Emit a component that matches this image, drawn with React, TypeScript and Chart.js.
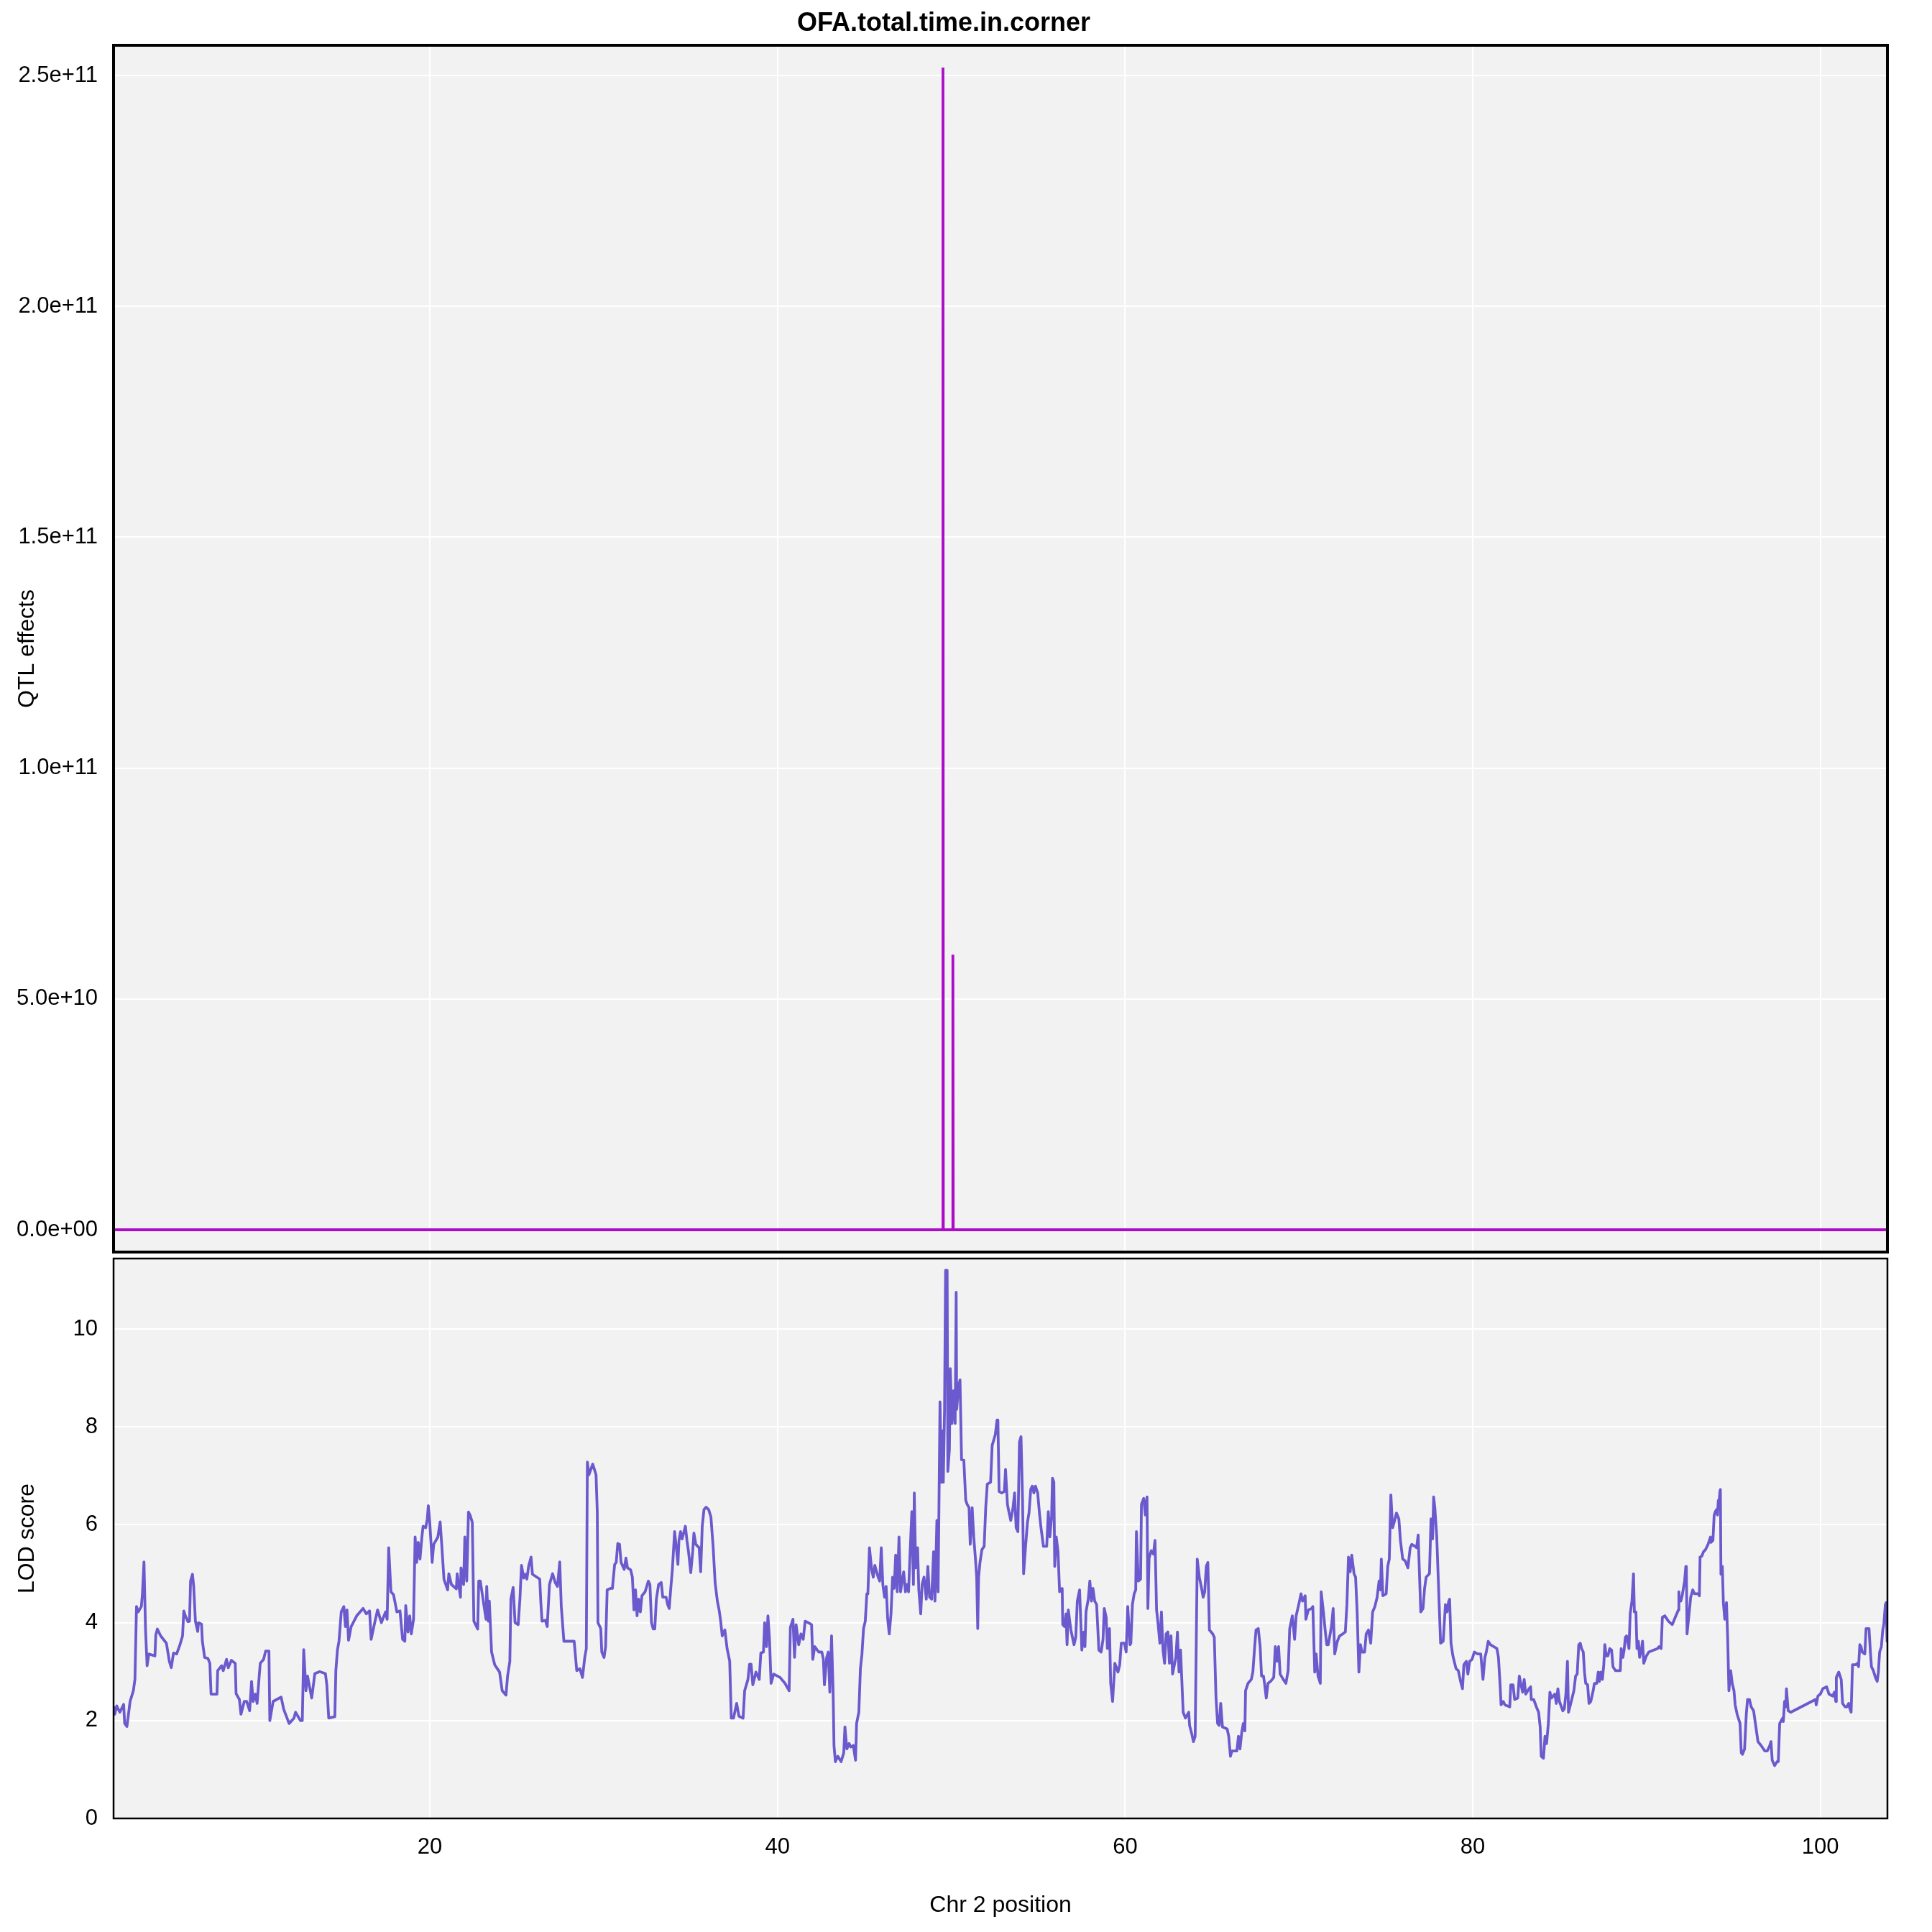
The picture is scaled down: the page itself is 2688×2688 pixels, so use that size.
import React, { useEffect, useRef } from 'react';
import { Chart, registerables } from 'chart.js';

Chart.register(...registerables);

// ---------- text ----------
const chartTitle = 'OFA.total.time.in.corner';
const xAxisTitle = 'Chr 2 position';
const qtlAxisTitle = 'QTL effects';
const lodAxisTitle = 'LOD score';

// ---------- ticks ----------
const xTicks = [20, 40, 60, 80, 100];
const qtlTicks = [0, 5e10, 1e11, 1.5e11, 2e11, 2.5e11];
const qtlTickLabels = ['0.0e+00', '5.0e+10', '1.0e+11', '1.5e+11', '2.0e+11', '2.5e+11'];
const lodTicks = [0, 2, 4, 6, 8, 10];

// ---------- axis ranges ----------
const xRange = [1.8, 103.86];
const qtlRange = [-4.826e9, 2.5654e11];
const lodRange = [0, 11.44];

// ---------- QTL effects series ----------
const qtlPos = [1.8, 49.5, 49.52, 49.54, 50.07, 50.09, 50.11, 103.86];
const qtlEff = [0, 0, 2.517e11, 0, 0, 5.96e10, 0, 0];

// ---------- LOD score series ----------
const lodPos = [
  1.80, 1.87, 1.98, 2.16, 2.38, 2.44, 2.57, 2.75, 2.94, 3.03, 3.12, 3.22, 3.40, 3.46, 3.55, 3.64, 3.73, 3.83, 4.18, 4.23,
  4.32, 4.51, 4.84, 5.01, 5.12, 5.25, 5.43, 5.62, 5.77, 5.84, 5.93, 6.08, 6.17, 6.23, 6.34, 6.41, 6.51, 6.64, 6.69, 6.86,
  6.91, 7.04, 7.23, 7.34, 7.41, 7.75, 7.79, 8.02, 8.11, 8.30, 8.40, 8.58, 8.80, 8.85, 9.04, 9.13, 9.32, 9.46, 9.63, 9.74,
  9.83, 9.96, 10.06, 10.18, 10.24, 10.43, 10.55, 10.74, 10.79, 10.98, 11.44, 11.59, 11.90, 12.18, 12.27, 12.55, 12.66, 12.74, 12.87, 12.96,
  13.20, 13.38, 13.66, 13.99, 14.07, 14.18, 14.53, 14.59, 14.68, 14.77, 14.90, 15.05, 15.14, 15.23, 15.32, 15.47, 15.79, 16.16, 16.34, 16.53,
  16.62, 16.80, 16.99, 17.21, 17.45, 17.54, 17.63, 17.76, 17.91, 18.10, 18.28, 18.43, 18.56, 18.61, 18.74, 18.84, 18.93, 19.06, 19.15, 19.24,
  19.33, 19.43, 19.54, 19.61, 19.76, 19.85, 19.91, 20.00, 20.13, 20.22, 20.46, 20.59, 20.68, 20.81, 21.02, 21.09, 21.24, 21.52, 21.57, 21.76,
  21.79, 21.94, 22.01, 22.12, 22.22, 22.31, 22.44, 22.53, 22.75, 22.81, 22.90, 23.12, 23.23, 23.27, 23.36, 23.42, 23.55, 23.73, 24.01, 24.16,
  24.38, 24.47, 24.60, 24.66, 24.79, 24.90, 25.08, 25.18, 25.27, 25.40, 25.49, 25.58, 25.68, 25.82, 25.90, 26.32, 26.38, 26.45, 26.64, 26.75,
  26.88, 27.06, 27.21, 27.34, 27.47, 27.56, 27.71, 27.86, 28.30, 28.45, 28.63, 28.78, 28.91, 29.00, 29.06, 29.15, 29.37, 29.56, 29.63, 29.67,
  29.83, 29.89, 30.02, 30.11, 30.20, 30.39, 30.50, 30.63, 30.72, 30.81, 30.91, 31.00, 31.18, 31.28, 31.37, 31.55, 31.65, 31.74, 31.83, 31.92,
  32.01, 32.11, 32.20, 32.38, 32.57, 32.66, 32.75, 32.85, 32.94, 33.03, 33.16, 33.31, 33.40, 33.59, 33.68, 33.77, 33.86, 33.95, 34.08, 34.18,
  34.27, 34.33, 34.42, 34.51, 34.70, 34.79, 34.88, 35.01, 35.12, 35.19, 35.30, 35.49, 35.58, 35.67, 35.77, 35.89, 36.04, 36.17, 36.30, 36.41,
  36.54, 36.64, 36.73, 36.82, 36.97, 37.10, 37.25, 37.34, 37.47, 37.65, 37.78, 38.02, 38.11, 38.30, 38.39, 38.48, 38.58, 38.76, 38.95, 39.04,
  39.19, 39.26, 39.37, 39.45, 39.54, 39.63, 39.78, 40.15, 40.43, 40.67, 40.74, 40.89, 40.98, 41.07, 41.22, 41.35, 41.48, 41.59, 41.77, 41.96,
  42.03, 42.14, 42.37, 42.55, 42.64, 42.70, 42.83, 42.92, 43.01, 43.11, 43.20, 43.25, 43.33, 43.47, 43.66, 43.81, 43.88, 43.99, 44.12, 44.21,
  44.36, 44.49, 44.55, 44.68, 44.77, 44.86, 44.95, 45.05, 45.14, 45.20, 45.29, 45.42, 45.51, 45.60, 45.79, 45.88, 45.97, 46.06, 46.16, 46.25,
  46.34, 46.43, 46.53, 46.62, 46.71, 46.80, 46.89, 46.99, 47.08, 47.17, 47.26, 47.36, 47.45, 47.54, 47.63, 47.73, 47.82, 47.87, 47.95, 48.06,
  48.13, 48.24, 48.32, 48.43, 48.56, 48.65, 48.75, 48.87, 48.98, 49.06, 49.17, 49.24, 49.35, 49.43, 49.48, 49.54, 49.61, 49.67, 49.76, 49.80,
  49.89, 49.94, 50.04, 50.13, 50.22, 50.28, 50.31, 50.41, 50.50, 50.59, 50.72, 50.83, 50.91, 51.02, 51.09, 51.20, 51.29, 51.39, 51.46, 51.52,
  51.57, 51.65, 51.76, 51.89, 51.98, 52.07, 52.26, 52.35, 52.44, 52.53, 52.63, 52.68, 52.75, 52.90, 53.05, 53.12, 53.23, 53.31, 53.42, 53.55,
  53.64, 53.73, 53.83, 53.92, 54.01, 54.10, 54.16, 54.25, 54.38, 54.47, 54.57, 54.66, 54.75, 54.84, 54.97, 55.08, 55.16, 55.30, 55.49, 55.58,
  55.67, 55.77, 55.82, 55.90, 55.95, 56.04, 56.14, 56.23, 56.38, 56.41, 56.51, 56.60, 56.66, 56.73, 56.88, 57.06, 57.16, 57.25, 57.38, 57.51,
  57.62, 57.69, 57.75, 57.88, 57.97, 58.06, 58.15, 58.25, 58.36, 58.49, 58.62, 58.73, 58.80, 58.91, 58.98, 59.10, 59.17, 59.28, 59.41, 59.59,
  59.69, 59.78, 59.96, 60.06, 60.15, 60.28, 60.33, 60.42, 60.52, 60.61, 60.65, 60.76, 60.89, 60.94, 61.07, 61.16, 61.26, 61.31, 61.38, 61.50,
  61.63, 61.72, 61.81, 61.90, 62.00, 62.09, 62.18, 62.27, 62.36, 62.46, 62.55, 62.64, 62.73, 62.92, 63.01, 63.10, 63.19, 63.34, 63.47, 63.66,
  63.71, 63.84, 63.93, 64.03, 64.15, 64.27, 64.40, 64.49, 64.58, 64.67, 64.76, 64.85, 65.04, 65.13, 65.23, 65.32, 65.41, 65.50, 65.60, 65.87,
  65.96, 66.06, 66.15, 66.43, 66.52, 66.61, 66.71, 66.80, 66.89, 66.93, 67.07, 67.26, 67.35, 67.44, 67.53, 67.66, 67.77, 67.85, 67.96, 68.03,
  68.12, 68.22, 68.37, 68.55, 68.64, 68.73, 68.83, 68.92, 69.10, 69.25, 69.38, 69.47, 69.62, 69.75, 69.84, 69.99, 70.12, 70.21, 70.36, 70.40,
  70.54, 70.73, 70.80, 70.91, 70.99, 71.10, 71.23, 71.28, 71.41, 71.50, 71.60, 71.69, 71.87, 71.97, 72.06, 72.21, 72.34, 72.52, 72.67, 72.76,
  72.85, 72.95, 73.04, 73.17, 73.26, 73.35, 73.45, 73.54, 73.63, 73.78, 73.87, 74.00, 74.13, 74.24, 74.37, 74.50, 74.61, 74.69, 74.74, 74.83,
  75.02, 75.11, 75.20, 75.29, 75.39, 75.51, 75.61, 75.75, 75.84, 75.97, 76.12, 76.27, 76.40, 76.49, 76.68, 76.77, 76.86, 77.01, 77.14, 77.23,
  77.32, 77.51, 77.60, 77.69, 77.75, 77.82, 77.93, 78.15, 78.30, 78.43, 78.52, 78.62, 78.67, 78.75, 78.86, 79.04, 79.17, 79.30, 79.41, 79.49,
  79.63, 79.72, 79.82, 79.96, 80.09, 80.28, 80.46, 80.59, 80.70, 80.78, 80.89, 81.02, 81.21, 81.39, 81.48, 81.58, 81.63, 81.76, 81.85, 82.13,
  82.19, 82.32, 82.41, 82.59, 82.68, 82.78, 82.87, 82.96, 83.05, 83.24, 83.33, 83.37, 83.51, 83.66, 83.79, 83.88, 83.94, 84.07, 84.16, 84.25,
  84.35, 84.44, 84.53, 84.72, 84.81, 84.90, 84.99, 85.18, 85.27, 85.36, 85.45, 85.51, 85.64, 85.82, 85.92, 86.01, 86.10, 86.19, 86.26, 86.36,
  86.43, 86.50, 86.61, 86.69, 86.79, 86.93, 87.00, 87.14, 87.22, 87.29, 87.36, 87.46, 87.54, 87.60, 87.68, 87.78, 87.88, 87.99, 88.07, 88.21,
  88.28, 88.49, 88.54, 88.64, 88.71, 88.78, 88.85, 88.99, 89.06, 89.16, 89.25, 89.30, 89.39, 89.45, 89.53, 89.60, 89.70, 89.77, 89.84, 89.99,
  90.13, 90.41, 90.63, 90.72, 90.84, 90.91, 91.05, 91.26, 91.48, 91.69, 91.83, 91.86, 91.90, 91.97, 92.05, 92.19, 92.26, 92.29, 92.33, 92.47,
  92.54, 92.66, 92.76, 92.97, 93.04, 93.08, 93.18, 93.28, 93.39, 93.54, 93.68, 93.71, 93.82, 93.89, 93.96, 94.03, 94.08, 94.13, 94.18, 94.22,
  94.25, 94.28, 94.36, 94.42, 94.50, 94.60, 94.67, 94.74, 94.84, 94.93, 95.03, 95.10, 95.21, 95.38, 95.45, 95.52, 95.64, 95.74, 95.81, 95.92,
  96.02, 96.16, 96.41, 96.59, 96.80, 96.95, 97.09, 97.16, 97.23, 97.37, 97.51, 97.58, 97.66, 97.83, 97.87, 97.94, 98.01, 98.05, 98.15, 98.30,
  99.72, 99.76, 99.86, 100.00, 100.14, 100.36, 100.50, 100.71, 100.81, 100.89, 100.92, 101.06, 101.20, 101.28, 101.42, 101.52, 101.63, 101.70, 101.77, 101.85,
  102.03, 102.13, 102.20, 102.27, 102.34, 102.41, 102.56, 102.63, 102.70, 102.80, 102.88, 102.94, 103.05, 103.17, 103.27, 103.34, 103.41, 103.51, 103.59, 103.65,
  103.74, 103.79, 103.84, 103.88,
];

const lodVal = [
  2.28, 2.13, 2.30, 2.17, 2.33, 1.94, 1.88, 2.39, 2.61, 2.84, 4.33, 4.22, 4.33, 4.59, 5.24, 3.85, 3.12, 3.36, 3.32, 3.75,
  3.87, 3.73, 3.58, 3.21, 3.08, 3.38, 3.36, 3.55, 3.73, 4.24, 4.14, 4.02, 4.03, 4.85, 4.99, 4.74, 4.03, 3.82, 4.00, 3.97,
  3.62, 3.29, 3.27, 3.17, 2.54, 2.54, 3.02, 3.12, 3.02, 3.25, 3.08, 3.23, 3.17, 2.55, 2.43, 2.13, 2.39, 2.39, 2.20, 2.80,
  2.39, 2.54, 2.35, 2.91, 3.17, 3.25, 3.42, 3.42, 2.00, 2.39, 2.48, 2.23, 1.94, 2.05, 2.17, 2.00, 2.00, 3.45, 2.61, 2.91,
  2.46, 2.96, 3.00, 2.96, 2.73, 2.05, 2.08, 3.02, 3.44, 3.62, 4.22, 4.33, 3.92, 4.26, 3.64, 3.92, 4.14, 4.29, 4.18, 4.24,
  3.66, 3.96, 4.26, 4.00, 4.22, 4.07, 5.53, 4.63, 4.57, 4.22, 4.24, 3.66, 3.62, 4.35, 3.81, 4.14, 3.77, 4.07, 5.75, 5.23,
  5.64, 5.30, 5.75, 5.97, 5.94, 6.12, 6.39, 6.01, 5.23, 5.60, 5.75, 6.06, 5.60, 4.89, 4.67, 5.00, 4.78, 4.69, 5.00, 4.52,
  5.12, 4.78, 5.75, 4.85, 6.26, 6.20, 6.05, 4.03, 3.87, 4.85, 4.85, 4.33, 4.07, 4.74, 4.03, 4.44, 3.40, 3.14, 2.99, 2.61,
  2.52, 2.91, 3.21, 4.48, 4.72, 4.00, 3.96, 4.48, 5.17, 4.91, 4.99, 4.89, 5.15, 5.34, 4.99, 4.89, 4.44, 4.03, 4.05, 3.92,
  4.78, 5.00, 4.82, 4.74, 5.24, 4.33, 3.62, 3.62, 3.62, 3.02, 3.06, 2.88, 3.29, 3.47, 7.28, 7.02, 7.24, 7.02, 6.27, 4.00,
  3.88, 3.40, 3.29, 3.51, 4.67, 4.70, 4.70, 5.19, 5.23, 5.62, 5.60, 5.23, 5.09, 5.32, 5.12, 5.08, 4.93, 4.26, 4.67, 4.14,
  4.48, 4.22, 4.55, 4.63, 4.85, 4.78, 4.00, 3.87, 3.87, 4.48, 4.78, 4.82, 4.52, 4.52, 4.37, 4.29, 4.70, 5.08, 5.86, 5.53,
  5.19, 5.68, 5.86, 5.71, 5.97, 5.68, 5.45, 5.02, 5.45, 5.83, 5.60, 5.53, 5.04, 5.97, 6.31, 6.36, 6.31, 6.16, 5.53, 4.82,
  4.44, 4.26, 4.03, 3.73, 3.85, 3.47, 3.21, 2.05, 2.05, 2.35, 2.09, 2.05, 2.61, 2.84, 3.15, 3.15, 2.73, 2.99, 2.84, 3.38,
  3.40, 4.00, 3.51, 4.14, 3.66, 2.76, 2.95, 2.88, 2.76, 2.61, 3.90, 4.07, 3.29, 3.96, 3.55, 3.77, 3.66, 4.03, 4.00, 3.96,
  3.25, 3.51, 3.40, 3.40, 3.25, 2.73, 3.29, 3.40, 2.58, 3.73, 2.58, 1.49, 1.16, 1.27, 1.16, 1.34, 1.87, 1.42, 1.53, 1.46,
  1.49, 1.19, 1.94, 2.17, 3.06, 3.36, 3.88, 4.03, 4.59, 4.59, 5.53, 5.08, 4.93, 5.17, 4.93, 4.85, 5.53, 4.78, 4.52, 4.74,
  4.07, 3.77, 4.18, 4.93, 4.70, 5.38, 4.63, 5.75, 4.63, 4.85, 5.04, 4.63, 4.78, 4.63, 5.45, 6.27, 4.78, 6.65, 5.12, 5.53,
  4.67, 4.18, 4.78, 4.93, 4.48, 5.15, 4.52, 4.48, 5.45, 4.44, 6.09, 4.63, 8.51, 6.87, 7.92, 6.87, 8.33, 11.20, 11.20, 7.09,
  7.54, 9.19, 8.07, 8.74, 8.07, 10.75, 8.36, 8.81, 8.96, 7.33, 7.32, 6.50, 6.42, 6.35, 5.60, 6.35, 5.75, 5.30, 4.93, 3.88,
  4.93, 5.23, 5.49, 5.56, 6.35, 6.83, 6.87, 7.62, 7.73, 7.84, 8.14, 8.14, 6.68, 6.65, 6.68, 7.13, 6.42, 6.27, 6.09, 6.35,
  6.65, 5.94, 5.86, 7.69, 7.80, 6.50, 5.00, 5.45, 6.05, 6.24, 6.72, 6.79, 6.65, 6.79, 6.65, 6.20, 5.94, 5.56, 5.56, 6.27,
  5.75, 6.16, 6.95, 6.87, 5.15, 5.75, 5.45, 4.63, 4.70, 3.96, 3.92, 4.18, 3.55, 4.26, 3.85, 3.55, 3.70, 4.44, 4.67, 3.44,
  3.81, 3.51, 4.22, 4.48, 4.85, 4.44, 4.70, 4.44, 4.37, 3.44, 3.40, 3.66, 4.29, 4.11, 3.47, 3.88, 2.76, 2.39, 3.17, 2.99,
  3.14, 3.58, 3.58, 3.40, 4.33, 3.55, 3.58, 4.37, 4.59, 4.67, 5.86, 4.85, 4.89, 6.42, 6.54, 6.20, 6.57, 4.29, 5.32, 5.47,
  5.40, 5.68, 4.26, 3.96, 3.58, 4.22, 3.44, 3.17, 3.77, 3.81, 3.17, 3.73, 2.95, 3.29, 3.81, 2.99, 3.44, 2.17, 2.05, 2.17,
  1.90, 1.72, 1.57, 1.68, 5.30, 4.93, 4.70, 4.52, 4.63, 5.15, 5.23, 3.85, 3.77, 3.70, 2.46, 1.94, 1.90, 2.35, 1.87, 1.83,
  1.68, 1.27, 1.38, 1.38, 1.68, 1.42, 1.76, 1.94, 1.79, 2.61, 2.76, 2.84, 2.99, 3.44, 3.85, 3.88, 3.51, 2.91, 2.91, 2.73,
  2.46, 2.76, 2.80, 2.88, 3.51, 3.21, 3.51, 2.95, 2.84, 2.76, 3.02, 3.88, 4.14, 3.66, 4.14, 4.37, 4.59, 4.44, 4.55, 4.07,
  4.26, 4.29, 4.33, 2.99, 3.36, 2.91, 2.76, 4.63, 4.22, 3.88, 3.55, 3.55, 3.92, 4.29, 3.36, 3.62, 3.73, 3.77, 3.81, 4.37,
  5.34, 5.04, 5.38, 5.00, 4.93, 4.22, 2.99, 3.55, 3.40, 3.40, 3.77, 3.85, 3.58, 4.22, 4.33, 4.52, 4.85, 4.67, 5.30, 4.55,
  4.59, 5.15, 5.30, 6.61, 5.94, 6.09, 6.24, 6.12, 5.68, 5.30, 5.26, 5.12, 5.53, 5.60, 5.56, 5.53, 5.79, 4.22, 4.29, 4.70,
  4.93, 5.00, 6.12, 5.71, 6.57, 6.35, 5.75, 3.58, 3.62, 4.37, 4.22, 4.44, 4.48, 3.58, 3.32, 3.06, 3.02, 2.80, 2.65, 3.14,
  3.21, 2.95, 3.21, 3.25, 3.40, 3.36, 3.36, 2.84, 3.29, 3.40, 3.62, 3.55, 3.51, 3.47, 3.29, 2.69, 2.32, 2.39, 2.32, 2.28,
  2.73, 2.73, 2.43, 2.46, 2.91, 2.73, 2.58, 2.84, 2.54, 2.65, 2.69, 2.43, 2.43, 2.28, 2.17, 1.87, 1.27, 1.23, 1.68, 1.53,
  1.94, 2.58, 2.46, 2.54, 2.35, 2.65, 2.39, 2.20, 2.24, 2.54, 3.21, 2.17, 2.35, 2.61, 2.91, 2.95, 3.55, 3.58, 3.47, 3.40,
  2.99, 2.76, 2.73, 2.35, 2.39, 2.61, 2.76, 2.76, 2.99, 2.80, 2.99, 2.84, 3.14, 3.55, 3.32, 3.32, 3.47, 3.44, 3.10, 3.02,
  3.02, 3.02, 3.47, 3.29, 3.44, 3.70, 3.73, 3.47, 4.18, 4.44, 5.00, 4.22, 4.22, 3.47, 3.62, 3.29, 3.44, 3.62, 3.17, 3.32,
  3.40, 3.44, 3.47, 3.51, 3.47, 4.11, 4.14, 4.03, 3.96, 4.14, 4.26, 4.63, 4.44, 4.44, 4.55, 4.85, 5.15, 5.15, 3.77, 4.26,
  4.52, 4.67, 4.59, 4.59, 4.55, 5.34, 5.36, 5.45, 5.49, 5.60, 5.75, 5.64, 5.68, 6.20, 6.27, 6.31, 6.20, 6.50, 6.50, 6.68,
  6.72, 4.99, 5.15, 4.41, 4.07, 4.41, 3.66, 2.61, 3.02, 2.76, 2.61, 2.32, 2.13, 1.94, 1.34, 1.31, 1.42, 2.13, 2.43, 2.43,
  2.28, 2.20, 1.57, 1.49, 1.38, 1.38, 1.49, 1.57, 1.19, 1.08, 1.16, 1.16, 1.94, 2.05, 1.98, 2.39, 2.28, 2.65, 2.20, 2.17,
  2.43, 2.32, 2.50, 2.54, 2.65, 2.69, 2.54, 2.50, 2.58, 2.39, 2.88, 2.99, 2.84, 2.35, 2.28, 2.28, 2.35, 2.24, 2.17, 3.14,
  3.14, 3.17, 3.10, 3.55, 3.51, 3.40, 3.36, 3.88, 3.88, 3.88, 3.40, 3.10, 3.02, 2.88, 2.80, 2.99, 3.40, 3.51, 3.85, 3.96,
  4.37, 4.41, 3.62, 4.03,
];

// ---------- styling ----------
const FONT = "'Liberation Sans', Arial, Helvetica, sans-serif";
const QTL_COLOR = '#AC0CC8';
const LOD_COLOR = '#6A5ACD';
const PANEL_BG = '#F2F2F2';
const GRID_COLOR = '#FFFFFF';

const W = 2688;
const SPARE = 70; // room so that axis label paddings never push the plot area
const TOP_AREA_BOTTOM = 1742;
const TOP_H = TOP_AREA_BOTTOM + SPARE;
const BOT_AREA_TOP = 1751;
const BOT_TOP = BOT_AREA_TOP - SPARE;
const BOT_H = 2688 - BOT_TOP;
const RIGHT_PAD = 62;
const Y_AXIS_W = 158;

function panelPlugin(borderWidth: number) {
  return {
    id: 'panelFrame',
    beforeDraw(chart: any) {
      const { ctx, chartArea: a } = chart;
      ctx.save();
      ctx.fillStyle = PANEL_BG;
      ctx.fillRect(a.left, a.top, a.right - a.left, a.bottom - a.top);
      ctx.restore();
    },
    afterDraw(chart: any) {
      const { ctx, chartArea: a } = chart;
      ctx.save();
      ctx.strokeStyle = '#000';
      ctx.lineWidth = borderWidth;
      ctx.strokeRect(a.left, a.top, a.right - a.left, a.bottom - a.top);
      ctx.restore();
    },
  };
}

const tickFont = { family: FONT, size: 31 };
const titleFont = { family: FONT, size: 32 };

export default function App() {
  const topRef = useRef<HTMLCanvasElement>(null);
  const botRef = useRef<HTMLCanvasElement>(null);

  useEffect(() => {
    if (!topRef.current || !botRef.current) return;

    const top = new Chart(topRef.current, {
      type: 'line',
      data: {
        datasets: [
          {
            data: qtlPos.map((x, i) => ({ x, y: qtlEff[i] })),
            borderColor: QTL_COLOR,
            backgroundColor: QTL_COLOR,
            borderWidth: 3.8,
            pointRadius: 0,
            tension: 0,
            fill: false,
          },
        ],
      },
      options: {
        responsive: false,
        animation: false,
        devicePixelRatio: 1,
        layout: { padding: { left: 0, right: RIGHT_PAD, top: 0, bottom: 0 } },
        plugins: {
          legend: { display: false },
          tooltip: { enabled: false },
          title: {
            display: true,
            text: chartTitle,
            color: '#000',
            font: { family: FONT, size: 36, weight: 'bold', lineHeight: 1 },
            padding: { top: 15, bottom: 12 },
          },
        },
        scales: {
          x: {
            type: 'linear',
            min: xRange[0],
            max: xRange[1],
            afterBuildTicks: (s: any) => {
              s.ticks = xTicks.map((v) => ({ value: v }));
            },
            afterFit: (s: any) => {
              s.height = SPARE;
            },
            ticks: { display: false },
            grid: { color: GRID_COLOR, lineWidth: 2, drawTicks: false },
            border: { display: false },
          },
          y: {
            type: 'linear',
            min: qtlRange[0],
            max: qtlRange[1],
            afterBuildTicks: (s: any) => {
              s.ticks = qtlTicks.map((v) => ({ value: v }));
            },
            afterFit: (s: any) => {
              s.width = Y_AXIS_W;
            },
            ticks: {
              callback: (_v: any, i: number) => qtlTickLabels[i],
              padding: 22,
              color: '#000',
              font: tickFont,
            },
            grid: { color: GRID_COLOR, lineWidth: 2, drawTicks: false },
            border: { display: false },
            title: {
              display: true,
              text: qtlAxisTitle,
              color: '#000',
              font: titleFont,
              padding: { top: 19, bottom: 0 },
            },
          },
        },
      } as any,
      plugins: [panelPlugin(4)],
    });

    const bot = new Chart(botRef.current, {
      type: 'line',
      data: {
        datasets: [
          {
            data: lodPos.map((x, i) => ({ x, y: lodVal[i] })),
            borderColor: LOD_COLOR,
            backgroundColor: LOD_COLOR,
            borderWidth: 3.8,
            pointRadius: 0,
            tension: 0,
            fill: false,
            borderJoinStyle: 'round',
            borderCapStyle: 'round',
          },
        ],
      },
      options: {
        responsive: false,
        animation: false,
        devicePixelRatio: 1,
        layout: { padding: { left: 0, right: RIGHT_PAD, top: SPARE, bottom: 0 } },
        plugins: {
          legend: { display: false },
          tooltip: { enabled: false },
          title: { display: false },
        },
        scales: {
          x: {
            type: 'linear',
            min: xRange[0],
            max: xRange[1],
            afterBuildTicks: (s: any) => {
              s.ticks = xTicks.map((v) => ({ value: v }));
            },
            afterFit: (s: any) => {
              s.height = 158;
            },
            ticks: { padding: 22, color: '#000', font: tickFont, maxRotation: 0, autoSkip: false },
            grid: { color: GRID_COLOR, lineWidth: 2, drawTicks: false },
            border: { display: false },
            title: {
              display: true,
              text: xAxisTitle,
              color: '#000',
              font: titleFont,
              padding: { top: 0, bottom: 18 },
            },
          },
          y: {
            type: 'linear',
            min: lodRange[0],
            max: lodRange[1],
            afterBuildTicks: (s: any) => {
              s.ticks = lodTicks.map((v) => ({ value: v }));
            },
            afterFit: (s: any) => {
              s.width = Y_AXIS_W;
            },
            ticks: { padding: 22, color: '#000', font: tickFont },
            grid: { color: GRID_COLOR, lineWidth: 2, drawTicks: false },
            border: { display: false },
            title: {
              display: true,
              text: lodAxisTitle,
              color: '#000',
              font: titleFont,
              padding: { top: 19, bottom: 0 },
            },
          },
        },
      } as any,
      plugins: [panelPlugin(2.5)],
    });

    return () => {
      top.destroy();
      bot.destroy();
    };
  }, []);

  return (
    <div style={{ position: 'absolute', left: 0, top: 0, width: W, height: 2688, background: '#fff' }}>
      <canvas
        ref={topRef}
        width={W}
        height={TOP_H}
        style={{ position: 'absolute', left: 0, top: 0, width: W, height: TOP_H }}
      />
      <canvas
        ref={botRef}
        width={W}
        height={BOT_H}
        style={{ position: 'absolute', left: 0, top: BOT_TOP, width: W, height: BOT_H }}
      />
    </div>
  );
}
